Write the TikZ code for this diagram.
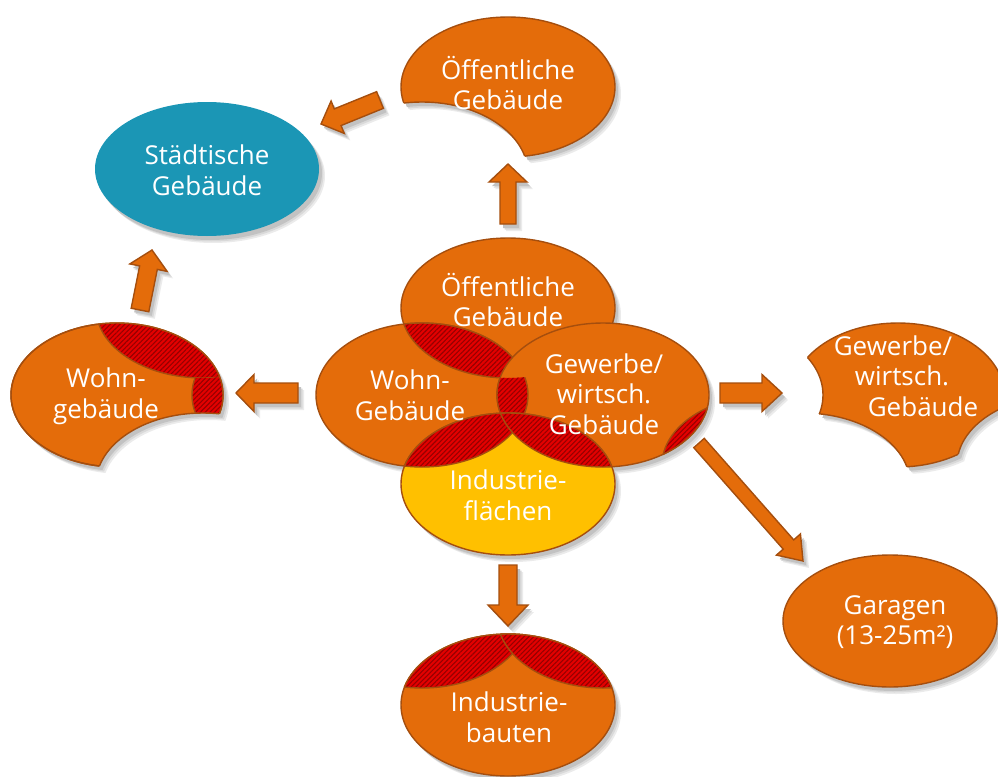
\documentclass[tikz,border=0pt]{standalone}
\usepackage{fontspec}
\setmainfont{Open Sans}
\usetikzlibrary{calc,patterns.meta}

\definecolor{org}{RGB}{228,108,10}
\definecolor{orgline}{RGB}{165,78,14}
\definecolor{hred}{RGB}{228,0,0}
\definecolor{hstripe}{RGB}{150,0,0}
\definecolor{blu}{RGB}{27,150,181}
\definecolor{yel}{RGB}{255,192,0}

\newcommand\blockarrow[6]{% #1 style, #2 from, #3 to, #4 shaft half, #5 head half, #6 head length
  \path let \p1=($(#3)-(#2)$) in \pgfextra{%
    \pgfmathsetmacro\tmpang{atan2(\y1,\x1)}%
    \pgfmathsetmacro\tmplen{veclen(\x1,\y1)}%
    \global\let\baang\tmpang \global\let\balen\tmplen};
  \begin{scope}[shift={(#2)}, rotate=\baang]
    \path[#1] (0,-#4) -- ({\balen-#6},-#4) -- ({\balen-#6},-#5) -- (\balen,0)
      -- ({\balen-#6},#5) -- ({\balen-#6},#4) -- (0,#4) -- cycle;
  \end{scope}}

\newcommand\softshadow[1]{%
  \foreach \sdx/\sdy/\sgr in {6/7/8,4.5/5.5/15,3/4/24}{%
    \begin{scope}[transform canvas={shift={(\sdx pt,-\sdy pt)}}]
      \tikzset{shf/.style={fill=black!\sgr, draw=none}}
      #1
    \end{scope}}}

\newcommand\eoclip{\pgfseteorule\clip}

\tikzset{
  shp/.style={fill=org, draw=orgline, line width=1.4pt},
  outl/.style={draw=orgline, line width=1.4pt},
  hatchs/.style={fill=hred, postaction={pattern={Lines[angle=45,distance=3.4pt,line width=1.1pt]}, pattern color=hstripe}},
  lbl/.style={text=white, align=center, font=\fontsize{26}{30.5}\selectfont, inner sep=0pt},
  arr/.style={fill=org, draw=orgline, line width=1.4pt, line join=miter},
  big/.style={insert path={(-60,-60) rectangle (1060,840)}},
  % central cluster
  eT/.style={insert path={(508,308) ellipse [x radius=107,y radius=70]}},
  eW/.style={insert path={(422,395) ellipse [x radius=106,y radius=72]}},
  eG/.style={insert path={(603,395) ellipse [x radius=106,y radius=72]}},
  eI/.style={insert path={(508,484) ellipse [x radius=107,y radius=71]}},
  eX/.style={insert path={(769,465) ellipse [x radius=107,y radius=70]}},
  % outer top
  oT/.style={insert path={(508,87) ellipse [x radius=107,y radius=70]}},
  oTW/.style={insert path={(422,174) ellipse [x radius=106,y radius=72]}},
  % outer wohn
  oW/.style={insert path={(117,395) ellipse [x radius=106,y radius=72]}},
  oWI/.style={insert path={(203,484) ellipse [x radius=107,y radius=71]}},
  oWT/.style={insert path={(203,308) ellipse [x radius=107,y radius=70]}},
  oWG/.style={insert path={(298,395) ellipse [x radius=106,y radius=72]}},
  % outer gewerbe
  oG/.style={insert path={(898,395) ellipse [x radius=106,y radius=72]}},
  oGW/.style={insert path={(717,395) ellipse [x radius=106,y radius=72]}},
  oGI/.style={insert path={(803,484) ellipse [x radius=107,y radius=71]}},
  oGX/.style={insert path={(1064,465) ellipse [x radius=107,y radius=70]}},
  % outer industrie
  oI/.style={insert path={(508,705) ellipse [x radius=107,y radius=71]}},
  oIW/.style={insert path={(422,616) ellipse [x radius=106,y radius=72]}},
  oIG/.style={insert path={(603,616) ellipse [x radius=106,y radius=72]}},
  eS/.style={insert path={(207,169) ellipse [x radius=112,y radius=67]}},
  eGa/.style={insert path={(890,621) ellipse [x radius=107,y radius=66]}},
}

\begin{document}
\begin{tikzpicture}[x=1pt,y=-1pt]
\useasboundingbox (0,0) rectangle (998,776);

% arrow end points
\coordinate (a1s) at (508,224); \coordinate (a1e) at (508,164);
\coordinate (a2s) at (508,565); \coordinate (a2e) at (508,626);
\coordinate (a3s) at (298,393); \coordinate (a3e) at (236,393);
\coordinate (a4s) at (720,393); \coordinate (a4e) at (782,393);
\coordinate (a5s) at (140,310); \coordinate (a5e) at (152,250);
\coordinate (a6s) at (380,100); \coordinate (a6e) at (321,124);
\coordinate (a7s) at (699,443); \coordinate (a7e) at (803,561);

% ---------- shadows ----------
\softshadow{
  \fill[shf][eS];
  \fill[shf][eT]; \fill[shf][eW]; \fill[shf][eG]; \fill[shf][eI];
  \begin{scope}\eoclip[big][oTW]; \fill[shf][oT];\end{scope}
  \begin{scope}\eoclip[big][oWI]; \fill[shf][oW];\end{scope}
  \begin{scope}\eoclip[big][oGW]; \eoclip[big][oGI]; \eoclip[big][oGX]; \fill[shf][oG];\end{scope}
  \fill[shf][oI];
  \fill[shf][eGa];
  \blockarrow{shf}{a1s}{a1e}{8}{19}{18}
  \blockarrow{shf}{a2s}{a2e}{9}{20}{21}
  \blockarrow{shf}{a3s}{a3e}{10}{18.5}{18}
  \blockarrow{shf}{a4s}{a4e}{10}{18.5}{20}
  \blockarrow{shf}{a5s}{a5e}{9}{19}{18}
  \blockarrow{shf}{a6s}{a6e}{9}{17.5}{18}
  \blockarrow{shf}{a7s}{a7e}{7}{16}{22}
}

% ---------- Städtische Gebäude ----------
\fill[blu][eS];
\node[lbl] (staedt) at (207,170) {Städtische\\Gebäude};

% ---------- outer Öffentliche Gebäude ----------
\begin{scope}\eoclip[big][oTW]; \filldraw[shp][oT];\end{scope}
\begin{scope}\clip[oT]; \draw[outl][oTW];\end{scope}
\node[lbl] (oeff2) at (508,83) {Öffentliche\\Gebäude};

% ---------- outer Wohngebäude ----------
\begin{scope}
  \eoclip[big][oWI];
  \filldraw[shp][oW];
  \begin{scope}\clip[oW]; \fill[hatchs][oWT]; \draw[outl][oWT];\end{scope}
  \begin{scope}\clip[oW]; \eoclip[big][oWT]; \fill[hatchs][oWG]; \draw[outl][oWG];\end{scope}
  \draw[outl][oW];
\end{scope}
\begin{scope}\clip[oW]; \draw[outl][oWI];\end{scope}
\node[lbl] (wohn2) at (106,396) {Wohn-\\gebäude};

% ---------- outer Gewerbe ----------
\begin{scope}
  \eoclip[big][oGW]; \eoclip[big][oGI]; \eoclip[big][oGX];
  \filldraw[shp][oG];
\end{scope}
\begin{scope}\clip[oG]; \eoclip[big][oGI]; \eoclip[big][oGX]; \draw[outl][oGW];\end{scope}
\begin{scope}\clip[oG]; \eoclip[big][oGW]; \eoclip[big][oGX]; \draw[outl][oGI];\end{scope}
\begin{scope}\clip[oG]; \eoclip[big][oGW]; \eoclip[big][oGI]; \draw[outl][oGX];\end{scope}
\node[lbl] (gew2) at (900,376) {\makebox[0pt]{\hspace*{-14pt}Gewerbe/}\\\makebox[0pt]{\hspace*{4pt}wirtsch.}\\\makebox[0pt]{\hspace*{46pt}Gebäude}};

% ---------- outer Industriebauten ----------
\filldraw[shp][oI];
\begin{scope}\clip[oI]; \fill[hatchs][oIW]; \draw[outl][oIW];\end{scope}
\begin{scope}\clip[oIW]; \draw[outl][oI];\end{scope}
\begin{scope}\clip[oI]; \fill[hatchs][oIG]; \draw[outl][oIG];\end{scope}
\begin{scope}\clip[oIG]; \draw[outl][oI];\end{scope}
\node[lbl] (indb) at (509,717) {Industrie-\\bauten};

% ---------- Garagen ----------
\filldraw[shp][eGa];
\node[lbl] (gar) at (895,622) {Garagen\\(13-25m²)};

% ---------- central cluster ----------
\filldraw[shp][eT];
\filldraw[shp][eW];
\begin{scope}\clip[eW]; \fill[hatchs][eT]; \draw[outl][eT];\end{scope}
\begin{scope}\clip[eT]; \draw[outl][eW];\end{scope}
\filldraw[shp][eG];
\begin{scope}\clip[eW]; \eoclip[big][eT]; \fill[hatchs][eG]; \draw[outl][eG];\end{scope}
\begin{scope}\clip[eG]; \eoclip[big][eT]; \draw[outl][eW];\end{scope}
\filldraw[fill=yel, draw=orgline, line width=1.4pt][eI];
\begin{scope}\clip[eW]; \fill[hatchs][eI]; \draw[outl][eI];\end{scope}
\begin{scope}\clip[eI]; \draw[outl][eW];\end{scope}
\begin{scope}\clip[eG]; \fill[hatchs][eI]; \draw[outl][eI];\end{scope}
\begin{scope}\clip[eI]; \draw[outl][eG];\end{scope}
\begin{scope}\clip[eG]; \fill[hatchs][eX]; \draw[outl][eX];\end{scope}
\begin{scope}\clip[eX]; \draw[outl][eG];\end{scope}

\node[lbl] (oeff1) at (508,300) {Öffentliche\\Gebäude};
\node[lbl] (wohn1) at (410,395) {Wohn-\\Gebäude};
\node[lbl] (gew1)  at (604,394) {Gewerbe/\\wirtsch.\\Gebäude};
\node[lbl] (indf)  at (508,495) {Industrie-\\flächen};

% ---------- arrows ----------
\blockarrow{arr}{a1s}{a1e}{8}{19}{18}
\blockarrow{arr}{a2s}{a2e}{9}{20}{21}
\blockarrow{arr}{a3s}{a3e}{10}{18.5}{18}
\blockarrow{arr}{a4s}{a4e}{10}{18.5}{20}
\blockarrow{arr}{a5s}{a5e}{9}{19}{18}
\blockarrow{arr}{a6s}{a6e}{9}{17.5}{18}
\blockarrow{arr}{a7s}{a7e}{7}{16}{22}
\end{tikzpicture}
\end{document}
